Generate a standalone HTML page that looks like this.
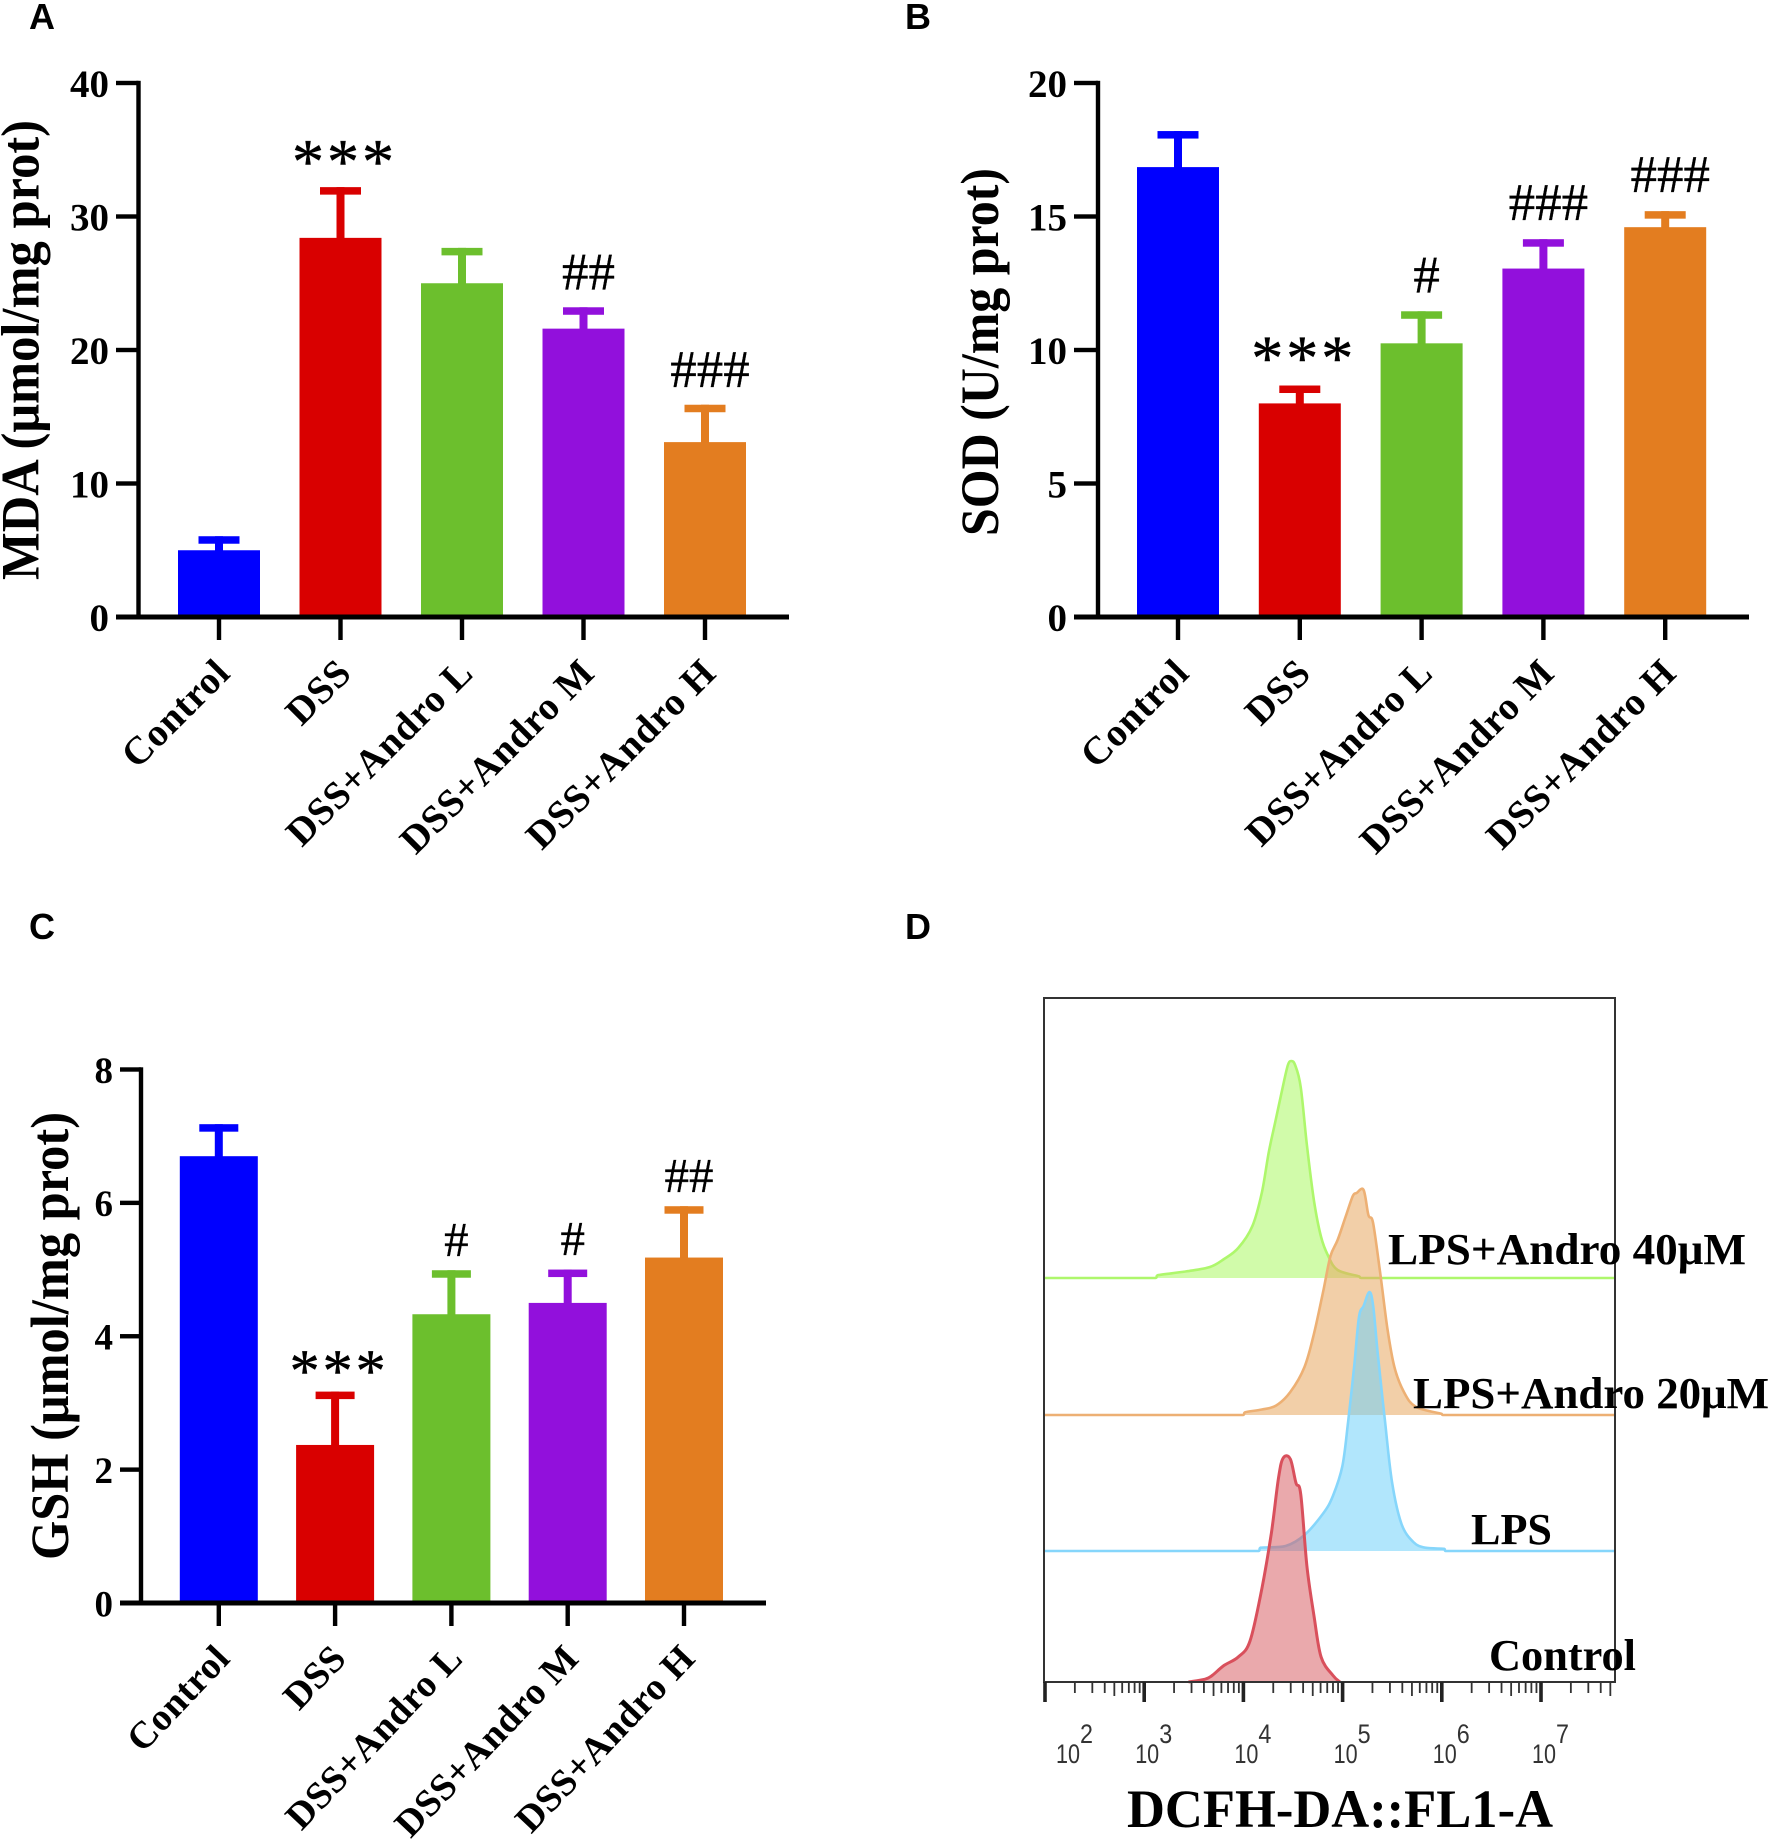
<!DOCTYPE html>
<html lang="en">
<head>
<meta charset="utf-8">
<title>Oxidative stress markers</title>
<style>
html,body{margin:0;padding:0;background:#fff}
svg{display:block}
text{font-family:"Liberation Serif",serif}
.bold{font-weight:700}
.panel-letter{font-family:"Liberation Sans",sans-serif;font-weight:700;font-size:36px}
.log-tick{font-family:"Liberation Sans",sans-serif;font-size:27px;fill:#333}
</style>
</head>
<body>
<svg id="figure" xmlns="http://www.w3.org/2000/svg" width="1772" height="1846" viewBox="0 0 1772 1846">
<rect width="1772" height="1846" fill="#fff"/>
<text class="panel-letter" x="29" y="29">A</text>
<text class="panel-letter" x="905" y="29">B</text>
<text class="panel-letter" x="29" y="939">C</text>
<text class="panel-letter" x="905" y="939">D</text>
</svg>
<script>
// ---- Bar chart data ----
const categories = ['Control', 'DSS', 'DSS+Andro L', 'DSS+Andro M', 'DSS+Andro H'];
const barColors = ['#0000ff', '#d90000', '#6cbf2d', '#9210dc', '#e37d20'];

const mdaValues = [5.0, 28.4, 25.0, 21.6, 13.1];
const mdaErrors = [1.05, 3.8, 2.65, 1.6, 2.8];
const mdaMarks = ['', '***', '', '##', '###'];
const mdaTicks = [0, 10, 20, 30, 40];

const sodValues = [16.85, 8.0, 10.25, 13.05, 14.6];
const sodErrors = [1.35, 0.67, 1.2, 1.1, 0.6];
const sodMarks = ['', '***', '#', '###', '###'];
const sodTicks = [0, 5, 10, 15, 20];

const gshValues = [6.7, 2.37, 4.33, 4.5, 5.18];
const gshErrors = [0.48, 0.8, 0.66, 0.5, 0.77];
const gshMarks = ['', '***', '#', '#', '##'];
const gshTicks = [0, 2, 4, 6, 8];

// ---- Flow cytometry data: log10 fluorescence / event count ----
const greenLog = [2.0, 3.113, 3.137, 3.423, 3.662, 3.805, 3.948, 4.091, 4.187, 4.258, 4.33, 4.401, 4.449, 4.482, 4.521, 4.578, 4.64, 4.712, 4.783, 4.855, 4.95, 5.164, 5.188, 7.75];
const greenCount = [0, 0, 2.8, 6.6, 11, 19, 30, 52, 86, 127, 160, 193, 213, 217, 213, 191, 133, 77, 41, 22, 8, 1.7, 0, 0];
const orangeLog = [2.0, 3.995, 4.019, 4.186, 4.329, 4.473, 4.616, 4.711, 4.807, 4.878, 4.95, 5.036, 5.103, 5.141, 5.212, 5.26, 5.307, 5.379, 5.451, 5.522, 5.618, 5.737, 5.999, 6.01, 7.75];
const orangeCount = [0, 0, 2.8, 5.5, 9.4, 23, 48, 81, 125, 159, 175, 200, 219, 222, 225, 200, 192, 142, 87, 48, 23, 8.3, 1.1, 0, 0];
const blueLog = [2.0, 4.153, 4.172, 4.425, 4.616, 4.807, 4.902, 4.998, 5.055, 5.117, 5.165, 5.212, 5.27, 5.308, 5.356, 5.428, 5.498, 5.594, 5.713, 5.833, 6.024, 6.038, 7.75];
const blueCount = [0, 0, 3.3, 5, 16, 38, 55, 85, 129, 185, 234, 245, 259, 245, 196, 129, 69, 27, 9, 3.3, 2.2, 0, 0];
const redLog = [3.447, 3.614, 3.686, 3.805, 3.948, 4.067, 4.187, 4.282, 4.354, 4.401, 4.473, 4.53, 4.578, 4.64, 4.712, 4.783, 4.902, 4.974];
const redCount = [0, 2.8, 6.6, 16.6, 25, 41, 94, 149, 204, 224, 223, 199, 188, 116, 66, 25, 6.6, 0];
const stackOffsets = [404, 267, 131, 0];
const histLabels = ['LPS+Andro 40μM', 'LPS+Andro 20μM', 'LPS', 'Control'];
const decadeExponents = [2, 3, 4, 5, 6, 7];
const minorMultipliers = [2, 3, 4, 5, 6, 7, 8, 9];

const SVG_NS = 'http://www.w3.org/2000/svg';
const svg = document.getElementById('figure');

function make(tag, attrs, parent) {
  const el = document.createElementNS(SVG_NS, tag);
  for (const k in attrs) el.setAttribute(k, attrs[k]);
  (parent || svg).appendChild(el);
  return el;
}

function drawBarPanel(p) {
  const g = make('g', {});
  
  
  const yScale = v => p.y0 - (v / p.yMax) * (p.y0 - p.yTop);
  const xScale = i => p.x0 + i * p.step;

  // bars, error bars, significance marks
  p.values.forEach((v, i) => {
    const cx = xScale(i);
    const top = yScale(v + p.errors[i]);
    const stem = make('rect', {x: cx - 4, y: top, width: 8, height: yScale(v) - top + 1, fill: barColors[i]}, g);
    
    
    const cap = make('rect', {x: cx - p.capW / 2, y: top, width: p.capW, height: 7.5, fill: barColors[i]}, g);
    
    
    const bar = make('rect', {x: cx - p.barW / 2, y: yScale(v), width: p.barW, height: p.y0 - yScale(v), fill: barColors[i]}, g);
    
    

    const m = p.marks[i];
    if (m) {
      const stars = m[0] === '*';
      const c = top - (stars ? p.starGap : p.hashGap);
      const t = make('text', {
        x: cx + (stars ? 4 : 5),
        y: stars ? c + p.starSize * 0.47 : c + p.hashSize * 0.34,
        'text-anchor': 'middle',
        'font-size': stars ? p.starSize : p.hashSize,
        'letter-spacing': stars ? 3 : 0,
        fill: '#000',
        stroke: '#000',
        'stroke-width': stars ? 0.5 : 0.3
      }, g);
      t.textContent = m;
      
      
    }
  });

  // axes
  const yAxis = make('rect', {x: p.axisX - 2.2, y: p.yTop - 2.2, width: 4.4, height: p.y0 - p.yTop + 4.4, fill: '#000'}, g);
  
  
  const xAxis = make('rect', {x: p.tickLeft, y: p.y0 - 2.5, width: p.axisEnd - p.tickLeft, height: 5, fill: '#000'}, g);
  
  

  p.ticks.forEach(v => {
    const y = yScale(v);
    const tick = make('rect', {x: p.tickLeft, y: y - 2.2, width: p.axisX - p.tickLeft, height: 4.4, fill: '#000'}, g);
    
    
    const label = make('text', {x: p.tickLeft - 7, y: y + p.tickSize * 0.36, 'text-anchor': 'end', 'font-size': p.tickSize, class: 'bold'}, g);
    label.textContent = v;
    
    
  });

  categories.forEach((c, i) => {
    const cx = xScale(i);
    const tick = make('rect', {x: cx - 2.2, y: p.y0, width: 4.4, height: 23, fill: '#000'}, g);
    
    
    const ax = cx + 13, ay = p.y0 + p.labelDrop;
    const label = make('text', {
      x: ax, y: ay, 'text-anchor': 'end', 'font-size': p.catSize, 'letter-spacing': p.catSpacing,
      class: 'bold', transform: 'rotate(' + p.catAngle + ' ' + ax + ' ' + ay + ')'
    }, g);
    label.textContent = c;
    
    
  });

  const title = make('text', {
    x: p.titleX, y: p.titleY, 'text-anchor': 'middle', 'font-size': 54, class: 'bold',
    textLength: p.titleLen, lengthAdjust: 'spacingAndGlyphs',
    transform: 'rotate(-90 ' + p.titleX + ' ' + p.titleY + ')'
  }, g);
  title.textContent = p.title;
  
  
}

drawBarPanel({
  id: 'mda', values: mdaValues, errors: mdaErrors, marks: mdaMarks, ticks: mdaTicks, yMax: 40,
  y0: 617, yTop: 83, axisX: 138.5, tickLeft: 116, axisEnd: 789, x0: 219, step: 121.5,
  barW: 82, capW: 41, tickSize: 39, catSize: 39, catSpacing: 0.7, catAngle: -45, labelDrop: 58, starSize: 64, hashSize: 53, starGap: 34, hashGap: 36,
  title: 'MDA (μmol/mg prot)', titleX: 38.5, titleY: 350, titleLen: 460
});
drawBarPanel({
  id: 'sod', values: sodValues, errors: sodErrors, marks: sodMarks, ticks: sodTicks, yMax: 20,
  y0: 617, yTop: 83, axisX: 1098, tickLeft: 1074, axisEnd: 1749, x0: 1178, step: 121.8,
  barW: 82, capW: 41, tickSize: 39, catSize: 39, catSpacing: 0.7, catAngle: -45, labelDrop: 58, starSize: 64, hashSize: 53, starGap: 36, hashGap: 37,
  title: 'SOD (U/mg prot)', titleX: 998, titleY: 352, titleLen: 368
});
drawBarPanel({
  id: 'gsh', values: gshValues, errors: gshErrors, marks: gshMarks, ticks: gshTicks, yMax: 8,
  y0: 1603, yTop: 1069.5, axisX: 141, tickLeft: 120, axisEnd: 766, x0: 218.8, step: 116.3,
  barW: 78, capW: 39, tickSize: 37, catSize: 38, catSpacing: 0.5, catAngle: -46.5, labelDrop: 57, starSize: 60, hashSize: 49, starGap: 29, hashGap: 31,
  title: 'GSH (μmol/mg prot)', titleX: 68, titleY: 1336, titleLen: 448
});

// ---- Histogram panel ----
const histX0 = 1045, histDecade = 99.2, histBase = 1682, histLeft = 1044, histRight = 1615, histTop = 998;
const xLog = l => histX0 + (l - 2) * histDecade;
const yCount = (c, offset) => histBase - offset - c;
const histSeries = [
  {name: 'green', logs: greenLog, counts: greenCount, line: '#aef76c', fill: '#a7f75c', op: 0.52, w: 2.6},
  {name: 'orange', logs: orangeLog, counts: orangeCount, line: '#edb074', fill: '#e8a860', op: 0.55, w: 2.6},
  {name: 'blue', logs: blueLog, counts: blueCount, line: '#86d6fb', fill: '#6fd0fa', op: 0.54, w: 2.6},
  {name: 'red', logs: redLog, counts: redCount, line: '#d9505c', fill: '#d65a60', op: 0.52, w: 3}
];

// Catmull-Rom smoothing of the sampled outline, kept above the baseline
function smoothPath(pts, baseY) {
  let d = 'M' + pts[0][0].toFixed(1) + ' ' + pts[0][1].toFixed(1);
  for (let i = 0; i < pts.length - 1; i++) {
    const a = pts[Math.max(i - 1, 0)], b = pts[i], c = pts[i + 1], e = pts[Math.min(i + 2, pts.length - 1)];
    const c1x = b[0] + (c[0] - a[0]) / 6, c1y = Math.min(baseY, b[1] + (c[1] - a[1]) / 6);
    const c2x = c[0] - (e[0] - b[0]) / 6, c2y = Math.min(baseY, c[1] - (e[1] - b[1]) / 6);
    d += 'C' + Math.min(c1x, c[0]).toFixed(1) + ' ' + c1y.toFixed(1) + ' ' + Math.max(c2x, b[0]).toFixed(1) + ' ' + c2y.toFixed(1) + ' ' + c[0].toFixed(1) + ' ' + c[1].toFixed(1);
  }
  return d;
}

const histGroup = make('g', {});



histSeries.forEach((s, k) => {
  const pts = s.logs.map((l, i) => [xLog(l), yCount(s.counts[i], stackOffsets[k])]);
  const d = smoothPath(pts, yCount(0, stackOffsets[k]));
  const area = make('path', {d: d + 'Z', fill: s.fill, 'fill-opacity': s.op, stroke: 'none'}, histGroup);
  
  
  const line = make('path', {d: d, fill: 'none', stroke: s.line, 'stroke-width': s.w, 'stroke-linejoin': 'round'}, histGroup);
  
  
});

const histBox = make('rect', {x: histLeft, y: histTop, width: histRight - histLeft, height: histBase - histTop, fill: 'none', stroke: '#333', 'stroke-width': 2}, histGroup);



decadeExponents.forEach(e => {
  const x = xLog(e);
  const major = make('rect', {x: x - 1.8, y: histBase, width: 3.6, height: 20, fill: '#222'}, histGroup);
  
  
  minorMultipliers.forEach(m => {
    const mx = xLog(e + Math.log10(m));
    if (mx > histRight) return;
    const minor = make('rect', {x: mx - 0.9, y: histBase, width: 1.8, height: m === 5 ? 14 : 11, fill: '#333'}, histGroup);
    
    
  });
  const lx = e === 2 ? x + 11 : x - 9;
  const base = make('text', {x: lx, y: 1763, class: 'log-tick', textLength: 24, lengthAdjust: 'spacingAndGlyphs'}, histGroup);
  base.textContent = '10';
  
  
  const sup = make('text', {x: lx + 24, y: 1743, class: 'log-tick', textLength: 13, lengthAdjust: 'spacingAndGlyphs'}, histGroup);
  sup.textContent = e;
  
  
});

const labelA = make('text', {x: 1388, y: 1264, 'font-size': 44, class: 'bold', textLength: 358, lengthAdjust: 'spacingAndGlyphs'}, histGroup);
labelA.textContent = histLabels[0];


const labelB = make('text', {x: 1413, y: 1408, 'font-size': 44, class: 'bold', textLength: 356, lengthAdjust: 'spacingAndGlyphs'}, histGroup);
labelB.textContent = histLabels[1];


const labelC = make('text', {x: 1471, y: 1544, 'font-size': 44, class: 'bold', textLength: 81, lengthAdjust: 'spacingAndGlyphs'}, histGroup);
labelC.textContent = histLabels[2];


const labelD = make('text', {x: 1489, y: 1670, 'font-size': 44, class: 'bold', textLength: 147, lengthAdjust: 'spacingAndGlyphs'}, histGroup);
labelD.textContent = histLabels[3];



const histTitle = make('text', {x: 1127, y: 1827, 'font-size': 54, class: 'bold', textLength: 426, lengthAdjust: 'spacingAndGlyphs'}, histGroup);
histTitle.textContent = 'DCFH-DA::FL1-A';


</script>
</body>
</html>
